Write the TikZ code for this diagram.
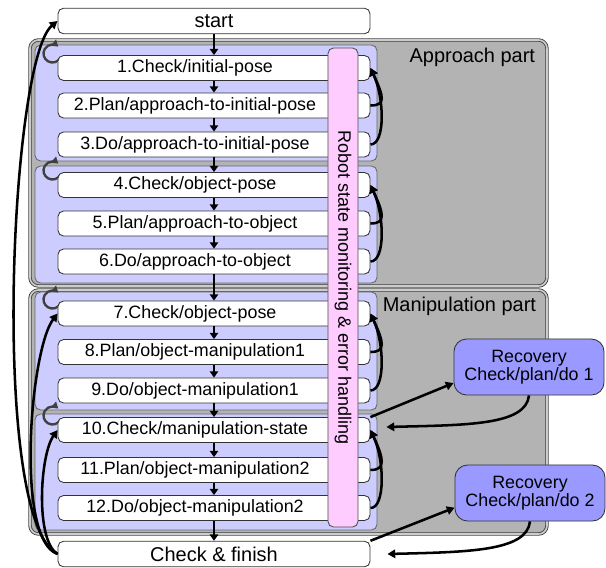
\documentclass[tikz,border=0pt]{standalone}
\usepackage{fontspec}
\setmainfont{Liberation Sans}
\usetikzlibrary{calc,arrows.meta}
\definecolor{partgray}{HTML}{B3B3B3}
\definecolor{phaseblue}{HTML}{CCCCFF}
\definecolor{monpink}{HTML}{FFCCFF}
\definecolor{recblue}{HTML}{9999FF}
\begin{document}
\begin{tikzpicture}
  [x=0.025cm,y=0.025cm,
   stepbox/.style={draw=black!80,line width=0.6pt,fill=white,rounded corners=4pt,
     minimum width=7.8cm,minimum height=0.625cm,inner sep=0pt,
     label={[font=\fontsize{12.7}{14}\selectfont,xshift=-0.475cm]center:#1}},
   endbox/.style={draw=black!80,line width=0.6pt,fill=white,rounded corners=4pt,
     minimum width=7.8cm,minimum height=0.64cm,inner sep=0pt,
     font=\fontsize{14.2}{16}\selectfont},
   recbox/.style={draw=black!80,line width=0.6pt,fill=recblue,rounded corners=9pt,
     minimum width=3.75cm,minimum height=1.4cm,inner sep=0pt,align=center,
     font=\fontsize{12.7}{10.2}\selectfont},
   partbox/.style={draw=black!75,line width=0.6pt,double=black!20,double distance=1.2pt,
     fill=partgray,rounded corners=6pt},
   phasebox/.style={draw=black!60,line width=0.6pt,fill=phaseblue,rounded corners=4pt},
   partlabel/.style={anchor=base east,font=\fontsize{14.2}{16}\selectfont},
   flowarrow/.style={-{Triangle[length=4.5pt,width=6pt]},line width=1.8pt},
   retryarrow/.style={-{Triangle[length=5.5pt,width=6pt]},line width=1.8pt},
   loopback/.style={-{Triangle[length=4.5pt,width=5.5pt]},line width=1.7pt,draw=black!75}]
  \useasboundingbox (0,0) rectangle (606,-567);

  % parts and phases
  \draw[partbox] (30,-40) rectangle (547,-286);
  \draw[partbox] (30,-290) rectangle (547,-534);
  \draw[phasebox] (35,-45) rectangle (377,-161);
  \draw[phasebox] (35,-166) rectangle (377,-283);
  \draw[phasebox] (35,-292) rectangle (377,-410);
  \draw[phasebox] (35,-414) rectangle (377,-530);
  \node[partlabel] (lapp) at (540,-62) {Approach part};
  \node[partlabel] (lman) at (541,-311) {Manipulation part};

  \foreach \y in {-53.5,-170.5,-299.5,-415.5}
    \draw[loopback] (60.3,\y-4.5) arc[start angle=-30,end angle=-310,radius=9];

  \node[endbox] (start) at (214,-21) {start};
  \node[stepbox=1.Check/initial-pose] (s1) at (214,-68) {};
  \node[stepbox=2.Plan/approach-to-initial-pose] (s2) at (214,-105.5) {};
  \node[stepbox=3.Do/approach-to-initial-pose] (s3) at (214,-144.5) {};
  \node[stepbox=4.Check/object-pose] (s4) at (214,-185) {};
  \node[stepbox=5.Plan/approach-to-object] (s5) at (214,-223.5) {};
  \node[stepbox=6.Do/approach-to-object] (s6) at (214,-261.5) {};
  \node[stepbox=7.Check/object-pose] (s7) at (214,-313.5) {};
  \node[stepbox=8.Plan/object-manipulation1] (s8) at (214,-352) {};
  \node[stepbox=9.Do/object-manipulation1] (s9) at (214,-390.5) {};
  \node[stepbox=10.Check/manipulation-state] (s10) at (214,-430) {};
  \node[stepbox=11.Plan/object-manipulation2] (s11) at (214,-470) {};
  \node[stepbox=12.Do/object-manipulation2] (s12) at (214,-508) {};
  \node[endbox] (finish) at (214,-554) {Check \& finish};

  \node[draw=black!70,line width=0.6pt,fill=monpink,rounded corners=4pt,rotate=-90,
    minimum width=11.975cm,minimum height=0.75cm,inner sep=0pt,
    font=\fontsize{12.8}{14}\selectfont] (mon) at (343,-287.5)
    {Robot state monitoring \& error handling};

  \node[recbox] (rec1) at (529,-367) {Recovery\\Check/plan/do 1};
  \node[recbox] (rec2) at (530,-493) {Recovery\\Check/plan/do 2};
  \coordinate (r1in) at ($(s10.east)+(16,3)$);
  \coordinate (r2in) at ($(finish.east)+(17,0)$);

  \foreach \from/\to in {start/s1,s1/s2,s2/s3,s3/s4,s4/s5,s5/s6,s6/s7,
                         s7/s8,s8/s9,s9/s10,s10/s11,s11/s12,s12/finish}
    \draw[flowarrow] (\from) -- (\to);

  \foreach \first/\from in {s1/s2,s1/s3,s4/s5,s4/s6,s7/s8,s7/s9,s10/s11,s10/s12}
    \draw[retryarrow] (\from.east) .. controls +(15,0) and +(14,-30) .. (\first.east);

  \draw[retryarrow] (finish.west) .. controls (-10,-520) and (10,-60) .. (start.west);
  \draw[retryarrow] (finish.west) .. controls (15,-540) and (30,-350) .. (s7.west);
  \draw[retryarrow] (finish.west) .. controls (35,-540) and (40,-455) .. (s10.west);

  \draw[retryarrow] (s10.north east) -- (rec1.192);
  \draw[retryarrow] (rec1.south) .. controls +(-3,-30) and +(80,2) .. (r1in);
  \draw[retryarrow] (finish.north east) -- (rec2.191);
  \draw[retryarrow] (rec2.south) .. controls +(-3,-30) and +(80,2) .. (r2in);

\end{tikzpicture}
\end{document}
